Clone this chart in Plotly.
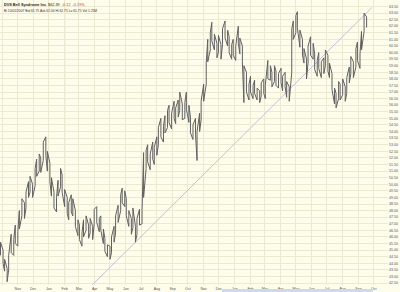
import pandas as pd
import plotly.graph_objects as go

# ---- data ----
bar_start = "2005-09-28"
highs = [45.6, 45.0, 44.3, 43.6, 44.6, 46.2, 45.8, 46.9, 46.4, 48.0,
         48.9, 48.6, 49.4, 50.2, 50.6, 50.0, 51.2, 51.9, 52.3, 52.0,
         53.2, 53.6, 52.5, 51.6, 50.5, 49.4, 49.0, 50.3, 51.2, 50.7,
         49.6, 49.0, 48.6, 49.2, 48.9, 48.0, 47.3, 46.9, 46.3, 47.3,
         47.6, 46.9, 47.4, 46.8, 48.1, 48.3, 47.4, 47.6, 46.6, 45.9,
         45.4, 45.3, 46.0, 46.8, 47.6, 48.4, 49.2, 49.7, 49.5, 48.9,
         48.0, 47.4, 48.2, 46.8, 47.4, 48.1, 48.0, 52.4, 52.6, 53.0,
         52.3, 53.2, 52.8, 53.6, 54.3, 55.0, 54.4, 55.2, 55.6, 56.0,
         55.4, 56.3, 55.8, 56.4, 57.0, 56.1, 56.2, 57.0, 56.0, 55.1,
         54.5, 55.0, 54.0, 55.4, 56.3, 57.6, 59.2, 61.0, 61.5, 62.3,
         61.4, 60.7, 61.3, 60.6, 61.8, 62.4, 61.7, 61.2, 60.6, 61.0,
         60.5, 62.0, 61.1, 60.5, 59.0, 58.5, 57.6, 58.2, 57.5, 57.9,
         57.3, 57.1, 57.7, 58.0, 57.5, 59.4, 59.0, 58.5, 59.0, 58.6,
         58.4, 58.8, 58.2, 58.5, 57.8, 57.4, 61.8, 62.4, 62.8, 63.1,
         61.7, 61.0, 60.3, 59.5, 60.5, 61.2, 60.7, 59.9, 59.4, 60.0,
         59.3, 59.6, 60.2, 59.8, 59.2, 58.4, 57.3, 56.9, 57.8, 57.6,
         58.0, 57.4, 58.1, 58.9, 59.7, 59.3, 60.3, 60.8, 59.9, 61.6,
         63.0, 62.7]
lows = [44.6, 44.0, 43.4, 42.6, 43.5, 44.8, 44.6, 45.5, 45.3, 46.6,
        47.6, 47.4, 48.2, 49.0, 49.4, 49.0, 49.9, 50.6, 51.0, 50.9,
        51.8, 52.2, 51.0, 50.2, 49.1, 48.2, 47.9, 49.1, 49.8, 49.4,
        48.3, 47.8, 47.3, 47.9, 47.6, 46.8, 46.1, 45.8, 45.3, 46.0,
        46.5, 45.9, 46.3, 45.8, 47.0, 47.1, 46.4, 46.5, 45.5, 44.9,
        44.5, 44.3, 44.8, 45.6, 46.3, 47.1, 48.0, 48.6, 48.3, 47.6,
        46.8, 46.2, 46.7, 45.6, 46.2, 46.9, 47.0, 49.0, 51.2, 51.7,
        51.1, 51.9, 51.5, 52.2, 53.0, 53.6, 53.2, 53.9, 54.3, 54.7,
        54.2, 55.0, 54.6, 55.1, 55.6, 54.9, 55.0, 55.7, 54.7, 53.9,
        53.4, 53.8, 51.8, 54.0, 54.9, 56.3, 57.6, 59.3, 60.2, 60.9,
        60.2, 59.6, 60.0, 59.5, 60.6, 61.1, 60.5, 60.0, 59.5, 59.8,
        59.4, 60.7, 59.9, 59.3, 56.2, 57.0, 56.4, 57.0, 56.5, 56.9,
        56.4, 56.2, 56.7, 56.9, 56.5, 58.0, 57.9, 57.4, 57.8, 57.5,
        57.3, 57.7, 57.1, 57.4, 56.6, 56.3, 58.5, 61.0, 61.5, 61.9,
        60.4, 59.8, 59.2, 58.0, 59.2, 59.8, 59.5, 58.7, 58.2, 58.8,
        58.1, 58.4, 59.0, 58.6, 58.1, 57.2, 56.1, 55.8, 56.5, 56.4,
        56.8, 56.3, 56.9, 57.7, 58.4, 58.1, 58.9, 59.4, 58.8, 60.2,
        61.6, 61.9]
trend_dates = ["2006-03-27", "2007-09-27"]
trend_prices = [42.35, 63.4]
title_name = "DVS Bell Syndrome Inc"
last_price = "$62.39"
change = "-0.12"
change_pct = "-0.19%"
info_line = "Bi 10/01/2007 Bid 61.75 Ask 62.00 Hi 62.75 Lo 61.75 Vol 1.25M"

n = min(len(highs), len(lows))
dates = pd.bdate_range(start=bar_start, periods=n, freq="3B")

# continuous zig-zag path through the high/low range of each bar
xs, ys = [], []
for i, (d, lo, hi) in enumerate(zip(dates, lows[:n], highs[:n])):
    xs += [d, d]
    ys += [lo, hi] if i % 2 == 0 else [hi, lo]

bg = "#FEFDEB"
grid = "#ECE9D3"

fig = go.Figure()
fig.add_trace(go.Scatter(x=trend_dates, y=trend_prices, mode="lines",
                         line=dict(color="#BFC0D2", width=1), hoverinfo="skip"))
fig.add_trace(go.Scatter(x=xs, y=ys, mode="lines",
                         line=dict(color="#606060", width=1), hoverinfo="skip"))

fig.update_layout(
    width=400, height=292,
    margin=dict(l=0, r=12, t=0, b=7),
    paper_bgcolor=bg, plot_bgcolor=bg,
    showlegend=False,
    font=dict(family="Liberation Sans, Arial, sans-serif", size=4, color="#555555"),
    xaxis=dict(type="date", range=["2005-09-27", "2007-10-29"],
               dtick="M1", tick0="2005-10-01", tickformat="%b",
               showgrid=True, gridcolor=grid, gridwidth=1,
               zeroline=False, showline=False, ticks="",
               tickfont=dict(size=3.6, color="#555555")),
    yaxis=dict(range=[42.35, 63.99], side="right", dtick=0.5, tick0=0,
               tickformat=".2f", showgrid=True, gridcolor=grid, gridwidth=1,
               zeroline=False, showline=False, ticks="",
               tickfont=dict(size=3.6, color="#555555")),
    shapes=[
        dict(type="line", xref="x", yref="paper", x0="2006-02-01", x1="2006-02-01",
             y0=0, y1=1, line=dict(color="#D9D6BE", width=1), layer="below"),
        dict(type="rect", xref="paper", yref="paper", x0=222/388, x1=373/388,
             y0=-7/285, y1=-4/285, fillcolor="#CCDAF0", line=dict(width=0)),
    ],
    annotations=[
        dict(xref="paper", yref="paper", x=0, y=1, xanchor="left", yanchor="top",
             xshift=2, yshift=-1, showarrow=False, align="left",
             text=f"<b>{title_name}</b>  {last_price}  "
                  f"<span style='color:#D03030'>{change}  {change_pct}</span>",
             font=dict(size=3.8, color="#222222")),
        dict(xref="paper", yref="paper", x=0, y=1, xanchor="left", yanchor="top",
             xshift=2, yshift=-6.5, showarrow=False, align="left",
             text=info_line, font=dict(size=3.3, color="#333333")),
    ],
)

fig.write_html("out.html")
